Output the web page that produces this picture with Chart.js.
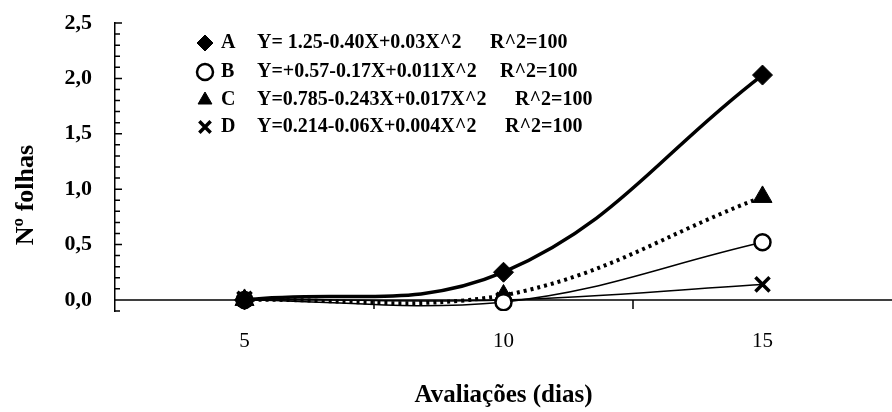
<!DOCTYPE html>
<html>
<head>
<meta charset="utf-8">
<script src="https://cdn.jsdelivr.net/npm/chart.js@4.4.0/dist/chart.umd.min.js"></script>
<style>
  html, body { margin: 0; padding: 0; background: #fff; }
</style>
</head>
<body>
<canvas id="myChart" width="892" height="412"></canvas>
<script>
const days = ['5', '10', '15'];
const serieA = [0.0, 0.25, 2.03];
const serieB = [0.0, -0.02, 0.52];
const serieC = [0.0, 0.04, 0.93];
const serieD = [0.01, 0.0, 0.14];
const seriesNames = ['A', 'B', 'C', 'D'];
const equations = [
  'Y= 1.25-0.40X+0.03X^2',
  'Y=+0.57-0.17X+0.011X^2',
  'Y=0.785-0.243X+0.017X^2',
  'Y=0.214-0.06X+0.004X^2'
];
const r2Labels = ['R^2=100', 'R^2=100', 'R^2=100', 'R^2=100'];
const yTickValues = [0, 0.5, 1.0, 1.5, 2.0, 2.5];
const yTitle = 'Nº folhas';
const xTitle = 'Avaliações (dias)';
const yMin = -0.1;
const yMax = 2.5;

const serif = '"Liberation Serif", "Times New Roman", serif';

// legend layout (pixels)
const legendRowY = [43, 72, 100, 127];
const legendR2X = [490, 500, 515, 505];

const axisMarks = {
  id: 'axisMarks',
  beforeDatasetsDraw(chart) {
    const { ctx, chartArea, scales: { x, y } } = chart;
    const y0 = y.getPixelForValue(0);
    ctx.save();
    ctx.strokeStyle = '#000';
    ctx.lineWidth = 1.5;
    ctx.beginPath();
    ctx.moveTo(chartArea.left, y0);
    ctx.lineTo(chartArea.right, y0);
    // tick marks between categories, hanging below the zero line
    for (let i = 0; i < days.length - 1; i++) {
      const bx = (x.getPixelForValue(i) + x.getPixelForValue(i + 1)) / 2;
      ctx.moveTo(bx, y0);
      ctx.lineTo(bx, y0 + 9);
    }
    // inward ticks on the y axis every 0.1
    for (let k = Math.round(yMin * 10); k <= Math.round(yMax * 10); k++) {
      const py = y.getPixelForValue(k / 10);
      ctx.moveTo(chartArea.left, py);
      ctx.lineTo(chartArea.left + (k % 5 === 0 ? 7 : 5), py);
    }
    ctx.stroke();
    ctx.restore();
  },
  afterDraw(chart) {
    const { ctx } = chart;
    ctx.save();
    // legend with equations
    chart.data.datasets.forEach((ds, i) => {
      const ry = legendRowY[i];
      ctx.fillStyle = ds.pointBackgroundColor;
      ctx.strokeStyle = '#000';
      ctx.lineWidth = ds.pointBorderWidth;
      Chart.helpers.drawPoint(ctx, {
        pointStyle: ds.pointStyle,
        radius: 8,
        rotation: 0,
        borderWidth: ds.pointBorderWidth
      }, 205, ry);
      ctx.fillStyle = '#000';
      ctx.font = 'bold 20px ' + serif;
      ctx.textAlign = 'left';
      ctx.textBaseline = 'middle';
      ctx.fillText(seriesNames[i], 221, ry);
      ctx.fillText(equations[i], 257, ry);
      ctx.fillText(r2Labels[i], legendR2X[i], ry);
    });
    // y axis title
    ctx.translate(26, 195);
    ctx.rotate(-Math.PI / 2);
    ctx.font = 'bold 26px ' + serif;
    ctx.textAlign = 'center';
    ctx.textBaseline = 'middle';
    ctx.fillText(yTitle, 0, 0);
    ctx.restore();
  }
};

const ctx = document.getElementById('myChart').getContext('2d');

new Chart(ctx, {
  type: 'line',
  data: {
    labels: days,
    datasets: [
      {
        label: seriesNames[0],
        data: serieA,
        borderColor: '#000',
        borderWidth: 3.5,
        pointStyle: 'rectRot',
        pointRadius: 10,
        pointBackgroundColor: '#000',
        pointBorderColor: '#000',
        pointBorderWidth: 1,
        tension: 0.4
      },
      {
        label: seriesNames[1],
        data: serieB,
        borderColor: '#000',
        borderWidth: 1.5,
        pointStyle: 'circle',
        pointRadius: 8,
        pointBackgroundColor: '#fff',
        pointBorderColor: '#000',
        pointBorderWidth: 2.5,
        tension: 0.4
      },
      {
        label: seriesNames[2],
        data: serieC,
        borderColor: '#000',
        borderWidth: 4,
        borderDash: [3, 4],
        pointStyle: 'triangle',
        pointRadius: 11,
        pointBackgroundColor: '#000',
        pointBorderColor: '#000',
        pointBorderWidth: 1,
        tension: 0.4
      },
      {
        label: seriesNames[3],
        data: serieD,
        borderColor: '#000',
        borderWidth: 1.5,
        pointStyle: 'crossRot',
        pointRadius: 10,
        pointBackgroundColor: '#000',
        pointBorderColor: '#000',
        pointBorderWidth: 3.5,
        tension: 0.4
      }
    ]
  },
  options: {
    responsive: false,
    animation: false,
    devicePixelRatio: 1,
    layout: { autoPadding: false, padding: { top: 23, left: 0, right: 0, bottom: 0 } },
    plugins: {
      legend: { display: false },
      tooltip: { enabled: false }
    },
    scales: {
      x: {
        type: 'category',
        offset: true,
        grid: { display: false, drawTicks: false },
        border: { display: false },
        ticks: {
          color: '#000',
          padding: 18,
          font: { family: serif, size: 21 }
        },
        title: {
          display: true,
          text: xTitle,
          color: '#000',
          padding: { top: 4, bottom: 1 },
          font: { family: serif, size: 25, weight: 'bold' }
        },
        afterFit: s => { s.height = 101; }
      },
      y: {
        min: yMin,
        max: yMax,
        grid: { display: false, drawTicks: true, tickLength: 23 },
        border: { display: true, color: '#000', width: 1.5 },
        afterBuildTicks: s => { s.ticks = yTickValues.map(v => ({ value: v })); },
        ticks: {
          color: '#000',
          padding: 0,
          font: { family: serif, size: 22, weight: 'bold' },
          callback: v => v.toFixed(1).replace('.', ',')
        },
        afterFit: s => { s.width = 115; }
      }
    }
  },
  plugins: [axisMarks]
});
</script>
</body>
</html>
